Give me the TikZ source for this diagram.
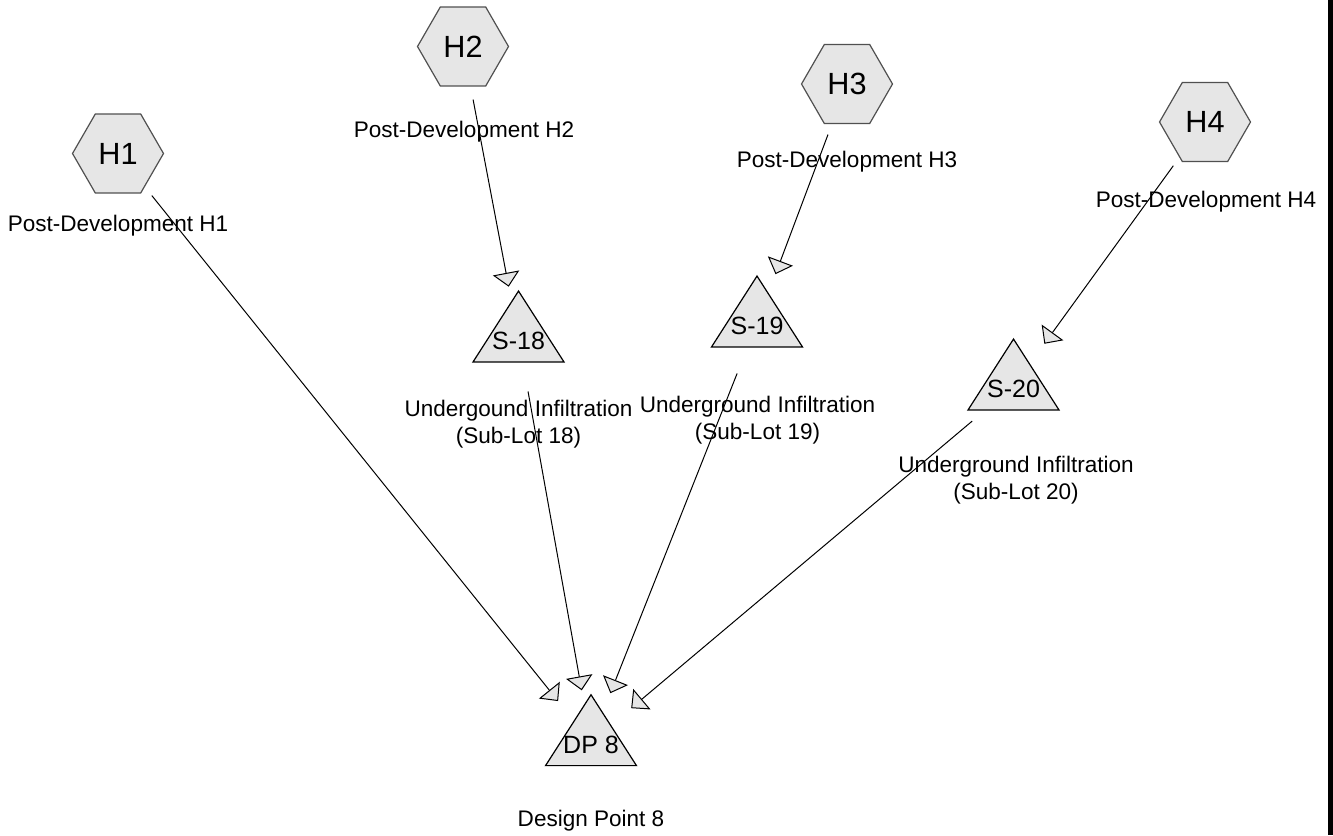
\documentclass[tikz,border=0pt]{standalone}
\usepackage{fontspec}
\setmainfont{Liberation Sans}
\usetikzlibrary{shapes.geometric,arrows.meta}
\definecolor{shapefill}{HTML}{E6E6E6}
\definecolor{hexline}{HTML}{505050}
% triangle text: takes no room in the node, sits low in the shape and
% undoes the vertical squash of the triangle
\newcommand{\trilabel}[1]{\raisebox{-9.6pt}[0pt][0pt]{\makebox[0pt]{\scalebox{1}[1.11]{#1}}}}
\begin{document}
\begin{tikzpicture}[x=0.75pt,y=-0.75pt,
  hexnode/.style={regular polygon, regular polygon sides=6, minimum size=68.25pt,
    inner sep=0pt, outer sep=0pt, draw=hexline, fill=shapefill, line width=0.9pt,
    font=\fontsize{23}{27}\selectfont},
  trinode/.style={regular polygon, regular polygon sides=3, minimum size=78.75pt,
    yscale=0.9, inner sep=0pt, outer sep=0pt, draw=black, fill=shapefill,
    line width=0.9pt, font=\fontsize{18.75}{22}\selectfont},
  caption/.style={font=\fontsize{16.9}{20.25}\selectfont, align=center,
    anchor=base, inner sep=0pt},
  flow/.style={draw=black, line width=0.75pt, shorten <=40.5pt, shorten >=39.4pt,
    -{Triangle[length=10.5pt,width=20pt,fill=shapefill,line width=0.75pt]}}
]
\useasboundingbox (0,0) rectangle (1333,835);
\fill[black] (1328,0) rectangle (1333,835);

% hydrograph sources
\node[hexnode] (h1) at (118,153.5) {H1};
\node[hexnode] (h2) at (463,46.5) {H2};
\node[hexnode] (h3) at (847,84) {H3};
\node[hexnode] (h4) at (1205,122) {H4};

% storage facilities and the design point
\node[trinode] (s18) at (518.5,338.3) {\trilabel{S-18}};
\node[trinode] (s19) at (757,323.3) {\trilabel{S-19}};
\node[trinode] (s20) at (1013.5,386.3) {\trilabel{S-20}};
\node[trinode] (dp8) at (591,742) {\trilabel{DP~8}};

% captions (anchored on the baseline of their last line)
\node[caption] (ch1) at (118,231) {Post-Development H1};
\node[caption] (ch2) at (464,137) {Post-Development H2};
\node[caption] (ch3) at (847,167) {Post-Development H3};
\node[caption] (ch4) at (1206,207) {Post-Development H4};
\node[caption] (cs18) at (518.5,443) {Undergound Infiltration\\(Sub-Lot 18)};
\node[caption] (cs19) at (757.5,439) {Underground Infiltration\\(Sub-Lot 19)};
\node[caption] (cs20) at (1016,499) {Underground Infiltration\\(Sub-Lot 20)};
\node[caption] (cdp8) at (591,826) {Design Point 8};

% flow connections
\draw[flow] (h2.center) -- (s18.center);
\draw[flow] (h3.center) -- (s19.center);
\draw[flow] (h4.center) -- (s20.center);
\draw[flow] (h1.center) -- (dp8.center);
\draw[flow] (s18.center) -- (dp8.center);
\draw[flow] (s19.center) -- (dp8.center);
\draw[flow] (s20.center) -- (dp8.center);
\end{tikzpicture}
\end{document}
